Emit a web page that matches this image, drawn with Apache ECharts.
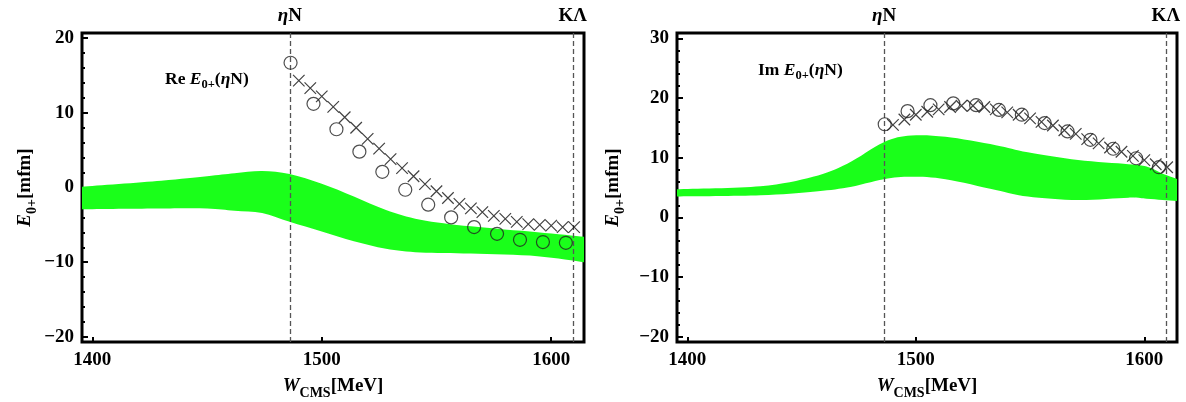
<!DOCTYPE html>
<html><head><meta charset="utf-8">
<script src="https://cdn.jsdelivr.net/npm/echarts@6/dist/echarts.min.js"></script>
<style>html,body{margin:0;padding:0;background:#fff}#c{width:1186px;height:402px}</style>
</head><body><div id="c"></div>
<script>
// ---------- data ----------
const thresholdX = [1486.1, 1609.4];
const thresholdNames = ['ηN', 'KΛ'];
const xTickValues = [1400, 1500, 1600];
const reMajorTicks = [-20, -10, 0, 10, 20];
const reMinorTicks = [-20,-18,-16,-14,-12,-10,-8,-6,-4,-2,0,2,4,6,8,10,12,14,16,18,20];
const imMajorTicks = [-20, -10, 0, 10, 20, 30];
const imMinorTicks = [-20,-18,-16,-14,-12,-10,-8,-6,-4,-2,0,2,4,6,8,10,12,14,16,18,20,22,24,26,28,30];

// Re E0+ band
const reBandX     = [1395.5, 1430, 1450, 1462, 1474, 1486, 1500, 1514, 1528, 1543, 1565, 1594, 1614.3];
const reBandUpper = [0.1, 0.9, 1.5, 1.9, 2.2, 1.8, 0.5, -1.2, -3.0, -4.3, -5.2, -6.0, -6.6];
const reBandLower = [-2.9, -2.8, -2.8, -3.1, -3.4, -4.6, -5.9, -7.2, -8.2, -8.7, -8.85, -9.2, -10.0];
// Re crosses
const crossX = [1490,1495,1500,1505,1510,1515,1520,1525,1530,1535,1540,1545,1550,1555,1560,1565,1570,1575,1580,1585,1590,1595,1600,1605,1610];
const reCrossY = [14.3,13.3,12.2,10.8,9.4,8.0,6.5,5.2,3.8,2.6,1.5,0.45,-0.5,-1.4,-2.2,-2.8,-3.3,-3.8,-4.2,-4.6,-4.9,-5.0,-5.1,-5.3,-5.3];
// Re circles
const circleX = [1486.4,1496.4,1506.4,1516.4,1526.4,1536.4,1546.4,1556.4,1566.4,1576.4,1586.4,1596.4,1606.4];
const reCircleY = [16.7,11.2,7.8,4.8,2.1,-0.3,-2.3,-4.0,-5.3,-6.2,-7.0,-7.3,-7.4];

// Im E0+ band
const imBandX     = [1395.5, 1432, 1455, 1470, 1486, 1498, 1513, 1535, 1549, 1571, 1593, 1601, 1608, 1615.3];
const imBandUpper = [4.7, 5.2, 6.8, 9.0, 12.6, 13.7, 13.5, 12.1, 10.9, 9.6, 8.9, 8.5, 7.3, 6.3];
const imBandLower = [3.5, 3.7, 4.3, 5.0, 6.4, 6.8, 6.4, 4.6, 3.5, 2.9, 3.3, 3.1, 2.9, 2.7];
// Im crosses
const imCrossY = [15.5,16.4,17.2,17.7,18.1,18.5,18.7,18.7,18.5,18.1,17.6,17.2,16.6,16.0,15.4,14.6,14.0,13.1,12.4,11.7,11.0,10.3,9.6,8.9,8.4];
// Im circles
const imCircleY = [15.6,17.8,18.8,19.1,18.8,18.0,17.2,15.8,14.4,13.0,11.5,9.9,8.4];

// ---------- styling ----------
const F = '"Liberation Serif","Times New Roman",serif';
const GREEN = '#1aff1a';
const rich = {
  b:  {fontFamily:F, fontWeight:'bold', fontSize:19, color:'#000', lineHeight:22},
  bi: {fontFamily:F, fontWeight:'bold', fontStyle:'italic', fontSize:19, color:'#000', lineHeight:22},
  s:  {fontFamily:F, fontWeight:'bold', fontSize:14, color:'#000', lineHeight:28, verticalAlign:'bottom'},
  sb: {fontFamily:F, fontWeight:'bold', fontSize:17.5, color:'#000', lineHeight:20},
  sbi:{fontFamily:F, fontWeight:'bold', fontStyle:'italic', fontSize:17.5, color:'#000', lineHeight:20},
  ss: {fontFamily:F, fontWeight:'bold', fontSize:12.5, color:'#000', lineHeight:25, verticalAlign:'bottom'}
};

const chart = echarts.init(document.getElementById('c'), null, {renderer:'canvas'});

function xAxisDef(grid){
  return {
    type:'value', gridIndex:grid, min:1395.5, max:1614.3,
    axisLine:{show:false, onZero:false}, splitLine:{show:false},
    axisTick:{show:true, inside:true, length:5, lineStyle:{color:'#000', width:2}, customValues:xTickValues},
    axisLabel:{show:true, margin:9, fontFamily:F, fontWeight:'bold', fontSize:19, color:'#000', customValues:xTickValues,
      formatter:v => String(v)},
    name:'{bi|W}{s|CMS}{b|[MeV]}', nameLocation:'middle', nameGap:30,
    nameTextStyle:{rich:rich}
  };
}
function yMajor(grid, min, max, ticks, gap){
  return {
    type:'value', gridIndex:grid, position:'left', min:min, max:max,
    axisLine:{show:false, onZero:false}, splitLine:{show:false},
    axisTick:{show:true, inside:true, length:6, lineStyle:{color:'#000', width:2}, customValues:ticks},
    axisLabel:{show:true, margin:8, fontFamily:F, fontWeight:'bold', fontSize:19, color:'#000', customValues:ticks,
      formatter:v => (v<0 ? '\u2212'+Math.abs(v) : ''+v)},
    name:'{bi|E}{s|0+}{b|[mfm]}', nameLocation:'middle', nameRotate:90, nameGap:gap,
    nameTextStyle:{rich:rich}
  };
}
function yMinor(grid, min, max, ticks){
  return {
    type:'value', gridIndex:grid, position:'left', min:min, max:max,
    axisLine:{show:false, onZero:false}, splitLine:{show:false}, axisLabel:{show:false},
    axisTick:{show:true, inside:true, length:3, lineStyle:{color:'#000', width:2}, customValues:ticks}
  };
}

// Catmull-Rom spline through screen points -> SVG path segments
function splineSeg(pts){
  let d = '';
  for (let i = 0; i < pts.length - 1; i++){
    const p0 = pts[Math.max(i-1,0)], p1 = pts[i], p2 = pts[i+1], p3 = pts[Math.min(i+2, pts.length-1)];
    const c1 = [p1[0] + (p2[0]-p0[0])/6, p1[1] + (p2[1]-p0[1])/6];
    const c2 = [p2[0] - (p3[0]-p1[0])/6, p2[1] - (p3[1]-p1[1])/6];
    d += ' C' + c1[0] + ' ' + c1[1] + ' ' + c2[0] + ' ' + c2[1] + ' ' + p2[0] + ' ' + p2[1];
  }
  return d;
}
// band drawn as one shape through the axis scales
function band(xi, yi, xs, up, lo){
  return {
    type:'custom', xAxisIndex:xi, yAxisIndex:yi, silent:true, z:1, clip:true,
    data: xs.map((x,i)=>[x, lo[i], up[i]]),
    renderItem(params, api){
      if (params.dataIndex !== 0) return null;
      const upper = xs.map((x,i)=>api.coord([x, up[i]]));
      const lower = xs.map((x,i)=>api.coord([x, lo[i]])).reverse();
      const d = 'M' + upper[0][0] + ' ' + upper[0][1] + splineSeg(upper) +
                ' L' + lower[0][0] + ' ' + lower[0][1] + splineSeg(lower) + ' Z';
      const cs = params.coordSys;
      return {
        type:'group',
        clipPath:{type:'rect', shape:{x:cs.x, y:cs.y, width:cs.width, height:cs.height}},
        children:[{ type:'path', shape:{pathData:d}, style:{fill:GREEN, stroke:null} }]
      };
    }
  };
}
const crossPath = 'path://M0,0L10,10M10,0L0,10';
function crosses(xi, yi, ys){
  return {type:'scatter', xAxisIndex:xi, yAxisIndex:yi, symbol:crossPath, symbolSize:11.5, silent:true, z:5,
    itemStyle:{color:'rgba(0,0,0,0)', borderColor:'#111', borderWidth:1.2},
    data: crossX.map((x,i)=>[x, ys[i]])};
}
function circles(xi, yi, ys){
  return {type:'scatter', xAxisIndex:xi, yAxisIndex:yi, symbol:'circle', symbolSize:13, silent:true, z:5,
    itemStyle:{color:'rgba(0,0,0,0)', borderColor:'#222', borderWidth:1.2},
    data: circleX.map((x,i)=>[x, ys[i]])};
}
function thresholds(xi, yi){
  return {type:'line', xAxisIndex:xi, yAxisIndex:yi, data:[], silent:true, z:4,
    markLine:{silent:true, symbol:['none','none'], animation:false,
      lineStyle:{color:'#555', width:1.3, type:[5,3]},
      label:{show:true, position:'end', distance:6, rich:rich},
      data: thresholdX.map((x,i)=>({xAxis:x, label:{formatter: i===0 ? '{bi|η}{b|N}' : '{b|KΛ}'}}))
    }};
}

const option = {
  animation:false,
  backgroundColor:'#fff',
  grid:[
    {left:82, top:33, width:502, height:309, show:true, borderColor:'#000', borderWidth:3, backgroundColor:'transparent', outerBoundsMode:'none', containLabel:false},
    {left:677, top:33, width:500, height:309, show:true, borderColor:'#000', borderWidth:3, backgroundColor:'transparent', outerBoundsMode:'none', containLabel:false}
  ],
  xAxis:[xAxisDef(0), xAxisDef(1)],
  yAxis:[
    yMajor(0, -20.68, 20.68, reMajorTicks, 43), yMinor(0, -20.68, 20.68, reMinorTicks),
    yMajor(1, -20.9, 30.9, imMajorTicks, 50), yMinor(1, -20.9, 30.9, imMinorTicks)
  ],
  graphic:[
    {type:'text', left:165, top:70, z:10, style:{text:'{sb|Re }{sbi|E}{ss|0+}{sb|(}{sbi|η}{sb|N)}', rich:rich}},
    {type:'text', left:758, top:61, z:10, style:{text:'{sb|Im }{sbi|E}{ss|0+}{sb|(}{sbi|η}{sb|N)}', rich:rich}}
  ],
  series:[
    band(0, 0, reBandX, reBandUpper, reBandLower),
    band(1, 2, imBandX, imBandUpper, imBandLower),
    thresholds(0, 0), thresholds(1, 2),
    crosses(0, 0, reCrossY), circles(0, 0, reCircleY),
    crosses(1, 2, imCrossY), circles(1, 2, imCircleY)
  ]
};
chart.setOption(option);
</script>
</body></html>
